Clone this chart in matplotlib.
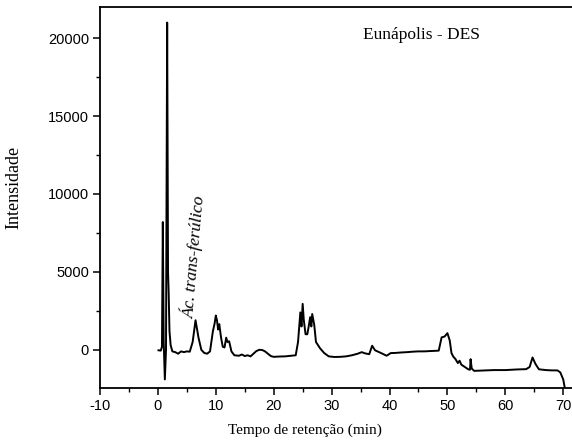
import matplotlib.pyplot as plt
from matplotlib.ticker import MultipleLocator

plt.rcParams["axes.unicode_minus"] = False

# chromatogram (time in min, intensity)
tempo = [0.1, 0.5, 0.7, 0.85, 1.0, 1.2, 1.4, 1.6, 1.75, 1.85, 2.0, 2.2, 2.5,
         3.0, 3.5, 4.0, 4.5, 5.0, 5.5, 6.0, 6.5, 7.0, 7.5, 8.0, 8.5, 9.0,
         9.5, 9.8, 10.0, 10.2, 10.4, 10.6, 10.9, 11.2, 11.5, 11.8, 12.0, 12.3,
         12.7, 13.2, 14.0, 14.5, 15.0, 15.5, 16.0, 16.5, 17.0, 17.5, 18.0,
         18.5, 19.0, 19.5, 20.0, 21.0, 22.0, 23.0, 23.8, 24.2, 24.6, 24.8,
         25.0, 25.2, 25.5, 25.8, 26.0, 26.3, 26.5, 26.65, 27.0, 27.3, 28.0,
         28.7, 29.5, 30.5, 31.5, 32.5, 33.5, 34.5, 35.2, 35.8, 36.5, 37.0,
         37.5, 38.5, 39.5, 40.2, 41.0, 42.0, 43.0, 44.0, 45.0, 46.0, 47.0,
         48.2, 48.5, 49.0, 49.5, 50.0, 50.4, 50.7, 51.0, 51.4, 51.8, 52.1,
         52.4, 52.8, 53.2, 53.6, 53.9, 54.0, 54.2, 54.6, 56.0, 58.0, 60.0,
         62.0, 63.6, 64.2, 64.7, 65.2, 65.8, 67.0, 68.0, 69.0, 69.5, 70.0, 70.3]
intensidade = [-30, -50, 200, 8200, 500, -1900, 0, 21000, 5000, 3800, 1200, 300, -100,
               -150, -250, -100, -150, -100, -120, 500, 1900, 800, 0, -200, -250, -100,
               1200, 1700, 2200, 1900, 1300, 1650, 800, 200, 150, 780, 500, 550,
               -100, -350, -380, -300, -400, -350, -420, -250, -80, 0, -10,
               -100, -250, -400, -450, -430, -420, -380, -350, 500, 2400, 1500,
               2950, 1900, 1000, 1000, 1400, 2100, 1500, 2300, 1600, 500, 100,
               -200, -420, -460, -450, -420, -350, -250, -150, -230, -280, 260,
               -30, -200, -380, -210, -200, -170, -150, -120, -100, -100, -80,
               -60, -50, 800, 850, 1070, 600, -200, -430, -600, -850, -700,
               -950, -1050, -1150, -1250, -1280, -600, -1200, -1350, -1330, -1300, -1300,
               -1260, -1240, -1100, -490, -900, -1250, -1300, -1320, -1320, -1450, -1900, -2500]

W, H = 572, 448
fig = plt.figure(figsize=(W / 100, H / 100), dpi=100)
x0, x1, y_top, y_bot = 100, 574.8, 7, 388
ax = fig.add_axes([x0 / W, 1 - y_bot / H, (x1 - x0) / W, (y_bot - y_top) / H])

ax.plot(tempo, intensidade, color="black", lw=1.4)

ax.set_xlim(-10, 72)
ax.set_ylim(-2450, 22000)
ax.xaxis.set_major_locator(MultipleLocator(10))
ax.xaxis.set_minor_locator(MultipleLocator(5))
ax.yaxis.set_minor_locator(MultipleLocator(2500))
ax.set_yticks([0, 5000, 10000, 15000, 20000])

for s in ax.spines.values():
    s.set_linewidth(1.3)
ax.spines["right"].set_visible(False)
ax.tick_params(which="major", direction="out", length=5, width=1.1,
               labelsize=10.5, pad=3)
ax.tick_params(which="minor", direction="out", length=3, width=1.0)
for lab in ax.get_xticklabels() + ax.get_yticklabels():
    lab.set_family("Liberation Sans")

serif = "Liberation Serif"
ax.set_xlabel("Tempo de retenção (min)", family=serif, fontsize=11)
ax.xaxis.set_label_coords((305 - x0) / (x1 - x0), (y_bot - 424) / (y_bot - y_top))
ax.set_ylabel("Intensidade", family=serif, fontsize=13)
ax.yaxis.set_label_coords((22 - x0) / (x1 - x0), (y_bot - 187) / (y_bot - y_top))

ax.text(0.678, 0.927, "Eunápolis - DES", transform=ax.transAxes,
        family=serif, fontsize=12.5, ha="center", va="center")
ax.text(7.0, 1950, "Ác. trans-ferúlico", family=serif, style="italic",
        fontsize=12.5, rotation=85, ha="left", va="bottom", rotation_mode="anchor")

fig.savefig("out.png", dpi=100)
